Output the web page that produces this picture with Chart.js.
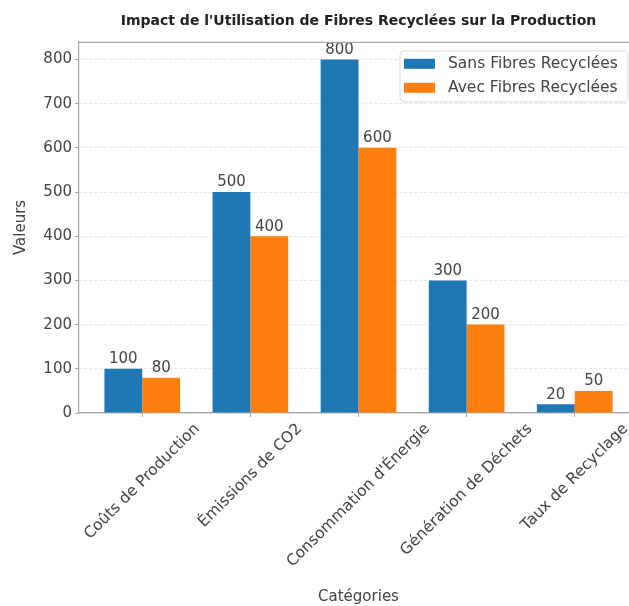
<!DOCTYPE html>
<html lang="fr">
<head>
<meta charset="utf-8">
<title>Impact de l'Utilisation de Fibres Recyclées sur la Production</title>
<script src="https://cdn.jsdelivr.net/npm/chart.js@4.4.1/dist/chart.umd.min.js"></script>
<style>
  html, body { margin: 0; padding: 0; background: #ffffff; overflow: hidden; }
  #wrap { position: absolute; left: 0; top: 0; width: 645px; height: 606px; }
  #chart { display: block; width: 645px; height: 606px; }
</style>
</head>
<body>
<div id="wrap"><canvas id="chart" width="645" height="606"></canvas></div>
<script>
// Categories and values for each series
const categories = [
  "Coûts de Production",
  "Émissions de CO2",
  "Consommation d'Énergie",
  "Génération de Déchets",
  "Taux de Recyclage"
];
const sansFibres = [100, 500, 800, 300, 20];
const avecFibres = [80, 400, 600, 200, 50];
const seriesNames = ["Sans Fibres Recyclées", "Avec Fibres Recyclées"];
const yTickValues = [0, 100, 200, 300, 400, 500, 600, 700, 800];

const FONT = "'DejaVu Sans', 'Open Sans', sans-serif";
const TEXT = "#444444";
const SPINE = "#a8a8a8";
const BLUE = "#1f77b4";
const ORANGE = "#ff7f0e";
const FS = 15;

// Value labels above every bar
const valueLabels = {
  id: "valueLabels",
  afterDatasetsDraw(chart) {
    const ctx = chart.ctx;
    ctx.save();
    ctx.font = FS + "px " + FONT;
    ctx.fillStyle = TEXT;
    ctx.textAlign = "center";
    ctx.textBaseline = "bottom";
    chart.data.datasets.forEach((ds, di) => {
      const meta = chart.getDatasetMeta(di);
      meta.data.forEach((bar, i) => {
        ctx.fillText(String(ds.data[i].y), bar.x, bar.y - 2);
      });
    });
    ctx.restore();
  }
};

// Category labels, rotated 45° and centred under their tick
const categoryLabels = {
  id: "categoryLabels",
  afterDraw(chart) {
    const ctx = chart.ctx;
    const xs = chart.scales.x;
    const size = 15.5;
    ctx.save();
    ctx.font = size + "px " + FONT;
    ctx.fillStyle = TEXT;
    ctx.textAlign = "center";
    ctx.textBaseline = "middle";
    categories.forEach((label, i) => {
      const w = ctx.measureText(label).width;
      const side = (w + size) * Math.SQRT1_2;
      const cx = xs.getPixelForValue(i);
      const cy = chart.chartArea.bottom + 8 + side / 2;
      ctx.save();
      ctx.translate(cx, cy);
      ctx.rotate(-Math.PI / 4);
      ctx.fillText(label, 0, 0);
      ctx.restore();
    });
    ctx.restore();
  }
};

// Top spine and the framed legend in the upper right of the plot
const frameAndLegend = {
  id: "frameAndLegend",
  afterDraw(chart) {
    const ctx = chart.ctx;
    const a = chart.chartArea;
    ctx.save();
    ctx.strokeStyle = SPINE;
    ctx.lineWidth = 1.2;
    ctx.beginPath();
    ctx.moveTo(a.left, a.top + 0.5);
    ctx.lineTo(a.right, a.top + 0.5);
    ctx.stroke();

    // legend box
    const boxRight = a.right - 10;
    const boxLeft = 400;
    const boxTop = a.top + 9;
    const boxH = 51;
    const r = 4;
    ctx.beginPath();
    ctx.moveTo(boxLeft + r, boxTop);
    ctx.lineTo(boxRight - r, boxTop);
    ctx.quadraticCurveTo(boxRight, boxTop, boxRight, boxTop + r);
    ctx.lineTo(boxRight, boxTop + boxH - r);
    ctx.quadraticCurveTo(boxRight, boxTop + boxH, boxRight - r, boxTop + boxH);
    ctx.lineTo(boxLeft + r, boxTop + boxH);
    ctx.quadraticCurveTo(boxLeft, boxTop + boxH, boxLeft, boxTop + boxH - r);
    ctx.lineTo(boxLeft, boxTop + r);
    ctx.quadraticCurveTo(boxLeft, boxTop, boxLeft + r, boxTop);
    ctx.closePath();
    ctx.fillStyle = "rgba(255,255,255,0.85)";
    ctx.fill();
    ctx.strokeStyle = "#dddddd";
    ctx.lineWidth = 1;
    ctx.stroke();

    ctx.font = "15.5px " + FONT;
    ctx.textAlign = "left";
    ctx.textBaseline = "middle";
    chart.data.datasets.forEach((ds, i) => {
      const cy = boxTop + 13 + i * 24;
      ctx.fillStyle = ds.backgroundColor;
      ctx.fillRect(boxLeft + 4, cy - 5, 31, 10);
      ctx.fillStyle = TEXT;
      ctx.fillText(ds.label, boxLeft + 48, cy);
    });
    ctx.restore();
  }
};

const toPoints = arr => arr.map((v, i) => ({ x: i, y: v }));

new Chart(document.getElementById("chart"), {
  type: "bar",
  data: {
    datasets: [
      { label: seriesNames[0], data: toPoints(sansFibres), backgroundColor: BLUE,
        categoryPercentage: 0.7, barPercentage: 1.0, borderWidth: 0 },
      { label: seriesNames[1], data: toPoints(avecFibres), backgroundColor: ORANGE,
        categoryPercentage: 0.7, barPercentage: 1.0, borderWidth: 0 }
    ]
  },
  options: {
    responsive: false,
    animation: false,
    devicePixelRatio: 1,
    layout: { padding: { left: 0, right: 7, top: 0, bottom: 0 } },
    plugins: {
      legend: { display: false },
      tooltip: { enabled: false },
      title: {
        display: true,
        fullSize: false,
        text: "Impact de l'Utilisation de Fibres Recyclées sur la Production",
        color: "#222222",
        font: { family: FONT, size: 14, weight: "bold", lineHeight: 1.2 },
        padding: { top: 13, bottom: 12 }
      }
    },
    scales: {
      x: {
        type: "linear",
        min: -0.585,
        max: 4.585,
        offset: false,
        afterBuildTicks: s => { s.ticks = categories.map((_, i) => ({ value: i })); },
        afterFit: s => { s.height = 193; },
        ticks: { display: false },
        grid: { display: true, drawOnChartArea: false, offset: false,
                tickLength: 4, tickColor: SPINE, color: SPINE },
        border: { display: true, color: SPINE, width: 1.2 },
        title: {
          display: true, text: "Catégories", color: TEXT,
          font: { family: FONT, size: FS, lineHeight: 1.2 },
          padding: { top: 0, bottom: 0 }
        }
      },
      y: {
        type: "linear",
        min: 0,
        max: 840,
        afterBuildTicks: s => { s.ticks = yTickValues.map(v => ({ value: v })); },
        afterFit: s => { s.width = 79; },
        ticks: { color: TEXT, font: { family: FONT, size: FS }, padding: 3, includeBounds: false },
        grid: { color: "rgba(0,0,0,0.1)", tickColor: SPINE, tickLength: 4, lineWidth: 1 },
        border: { display: true, color: SPINE, width: 1.2, dash: [3, 2] },
        title: {
          display: true, text: "Valeurs", color: TEXT,
          font: { family: FONT, size: FS, lineHeight: 1.2 },
          padding: { top: 12, bottom: 0 }
        }
      }
    }
  },
  plugins: [valueLabels, categoryLabels, frameAndLegend]
});
</script>
</body>
</html>
